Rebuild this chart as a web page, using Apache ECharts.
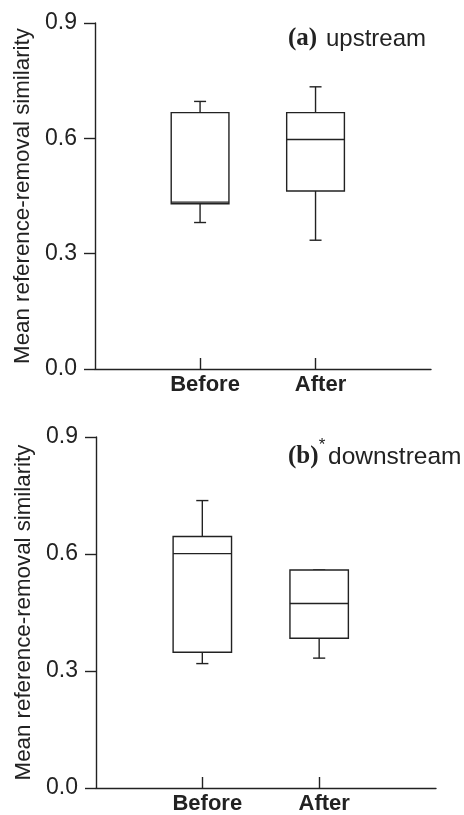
<!DOCTYPE html>
<html>
<head>
<meta charset="utf-8">
<script src="https://cdn.jsdelivr.net/npm/echarts@6/dist/echarts.min.js"></script>
<style>
  html, body { margin: 0; padding: 0; background: #fff; }
  #chart { width: 464px; height: 815px; }
</style>
</head>
<body>
<div id="chart"></div>
<script>
// categories and their positions on the x axis
var categories = ['Before', 'After'];
var positions = [1, 2];
var yTicks = [0, 0.3, 0.6, 0.9];

// [min, Q1, median, Q3, max]
var upBefore = [0.381, 0.430, 0.434, 0.667, 0.696];
var upAfter = [0.335, 0.463, 0.597, 0.667, 0.734];
var downBefore = [0.319, 0.348, 0.601, 0.645, 0.737];
var downAfter = [0.333, 0.384, 0.473, 0.559, 0.559];

var ink = '#222';

function boxData(a, b) {
  return [[positions[0]].concat(a), [positions[1]].concat(b)];
}

function renderBox(params, api) {
  var x = api.value(0);
  var pMin = api.coord([x, api.value(1)]);
  var pQ1 = api.coord([x, api.value(2)]);
  var pMed = api.coord([x, api.value(3)]);
  var pQ3 = api.coord([x, api.value(4)]);
  var pMax = api.coord([x, api.value(5)]);
  var unit = api.size([1, 0])[0];
  var half = unit * 0.25;
  var cap = unit * 0.052;
  var st = { stroke: ink, lineWidth: 1.4, fill: null };
  var cx = pMed[0];
  return {
    type: 'group',
    children: [
      { type: 'line', shape: { x1: cx, y1: pQ3[1], x2: cx, y2: pMax[1] }, style: st },
      { type: 'line', shape: { x1: cx - cap, y1: pMax[1], x2: cx + cap, y2: pMax[1] }, style: st },
      { type: 'line', shape: { x1: cx, y1: pQ1[1], x2: cx, y2: pMin[1] }, style: st },
      { type: 'line', shape: { x1: cx - cap, y1: pMin[1], x2: cx + cap, y2: pMin[1] }, style: st },
      { type: 'rect', shape: { x: cx - half, y: pQ3[1], width: half * 2, height: pQ1[1] - pQ3[1] },
        style: { stroke: ink, lineWidth: 1.4, fill: '#fff' } },
      { type: 'line', shape: { x1: cx - half, y1: pMed[1], x2: cx + half, y2: pMed[1] }, style: st }
    ]
  };
}

function xAxisOpt(idx) {
  return {
    type: 'value', gridIndex: idx, min: 0.09, max: 3,
    axisLine: { onZero: false, lineStyle: { color: ink, width: 1.4 } },
    axisTick: { inside: true, length: 11, customValues: positions, lineStyle: { color: ink, width: 1.4 } },
    axisLabel: {
      customValues: positions, margin: 5, padding: [0, 0, 0, 10],
      color: ink, fontSize: 22, fontWeight: 'bold', fontFamily: 'Liberation Sans',
      formatter: function (v) { return categories[positions.indexOf(v)] || ''; }
    },
    splitLine: { show: false }
  };
}

function yAxisOpt(idx) {
  return {
    type: 'value', gridIndex: idx, min: yTicks[0], max: yTicks[yTicks.length - 1], interval: 0.3,
    name: 'Mean reference-removal similarity', nameLocation: 'middle', nameGap: 61,
    nameTextStyle: { color: ink, fontSize: 22.3, fontFamily: 'Liberation Sans' },
    axisLine: { show: true, onZero: false, lineStyle: { color: ink, width: 1.4 } },
    axisTick: { show: true, length: 11, lineStyle: { color: ink, width: 1.4 } },
    axisLabel: {
      margin: 18, color: ink, fontSize: 23, fontFamily: 'Liberation Sans',
      formatter: function (v) { return v.toFixed(1); }
    },
    splitLine: { show: false }
  };
}

var myChart = echarts.init(document.getElementById('chart'));
var option = {
  backgroundColor: '#fff',
  animation: false,
  grid: [
    { left: 95, right: 33, top: 23, bottom: 446 },
    { left: 96, right: 28, top: 437, bottom: 27 }
  ],
  xAxis: [xAxisOpt(0), xAxisOpt(1)],
  yAxis: [yAxisOpt(0), yAxisOpt(1)],
  series: [
    { type: 'custom', xAxisIndex: 0, yAxisIndex: 0, renderItem: renderBox, data: boxData(upBefore, upAfter) },
    { type: 'custom', xAxisIndex: 1, yAxisIndex: 1, renderItem: renderBox, data: boxData(downBefore, downAfter) }
  ],
  graphic: [
    { type: 'text', x: 288, y: 39, style: { text: '(a)', fill: ink, font: 'bold 25px "Liberation Serif"', verticalAlign: 'middle' } },
    { type: 'text', x: 326, y: 39, style: { text: 'upstream', fill: ink, font: '24px "Liberation Sans"', verticalAlign: 'middle' } },
    { type: 'text', x: 288, y: 457, style: { text: '(b)', fill: ink, font: 'bold 25px "Liberation Serif"', verticalAlign: 'middle' } },
    { type: 'text', x: 322, y: 445.5, style: { text: '*', fill: ink, font: '17px "Liberation Sans"', align: 'center', verticalAlign: 'middle' } },
    { type: 'text', x: 328, y: 457, style: { text: 'downstream', fill: ink, font: '24.5px "Liberation Sans"', verticalAlign: 'middle' } }
  ]
};
myChart.setOption(option);
</script>
</body>
</html>
